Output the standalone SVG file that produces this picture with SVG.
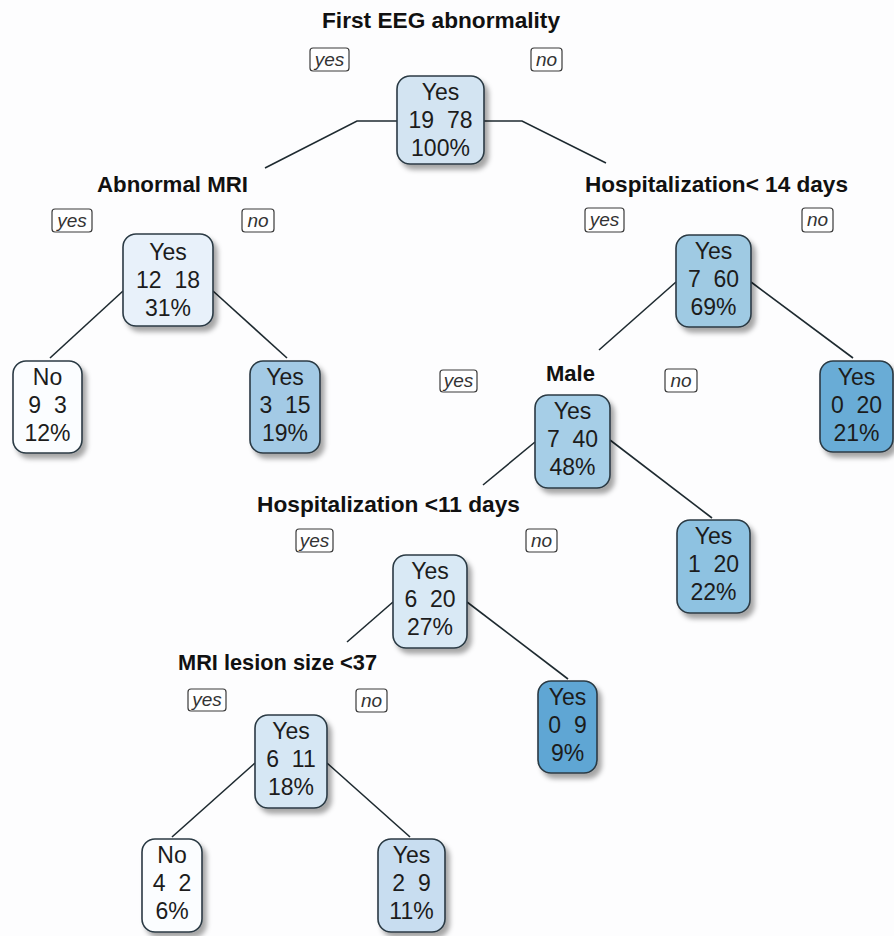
<svg xmlns="http://www.w3.org/2000/svg" width="894" height="936" viewBox="0 0 894 936">
<defs>
<filter id="sh" x="-20%" y="-20%" width="150%" height="150%">
<feDropShadow dx="4" dy="5" stdDeviation="2.5" flood-color="#000" flood-opacity="0.35"/>
</filter>
<style>
.bx{stroke:#2b3a44;stroke-width:1.6;filter:url(#sh)}
.nt{font-family:"Liberation Sans",Arial,sans-serif;font-size:23px;fill:#1c1c1c;text-anchor:middle}
.lb{font-family:"Liberation Sans",Arial,sans-serif;font-size:22px;font-weight:bold;fill:#111;text-anchor:middle}
.yn rect{fill:#fff;stroke:#3a3a3a;stroke-width:1.2}
.yn text{font-family:"Liberation Sans",Arial,sans-serif;font-size:19px;font-style:italic;fill:#333;text-anchor:middle}
.cn{fill:none;stroke:#1e2a30;stroke-width:1.6}
</style>
</defs>
<rect x="0" y="0" width="894" height="936" fill="#fdfdfe"/>

<g id="connectors" class="cn">
<polyline points="397,121 357,121 265,168"/>
<polyline points="484,121 522,121 606,163"/>
<line x1="123" y1="291" x2="50" y2="358"/>
<line x1="213" y1="291" x2="287" y2="358"/>
<line x1="676" y1="282" x2="599" y2="350"/>
<line x1="751" y1="282" x2="853" y2="358"/>
<line x1="535" y1="442" x2="483" y2="485"/>
<line x1="610" y1="440" x2="712" y2="518"/>
<line x1="393" y1="602" x2="347" y2="642"/>
<line x1="467" y1="602" x2="568" y2="679"/>
<line x1="255" y1="763" x2="172" y2="837"/>
<line x1="327" y1="763" x2="410" y2="837"/>
</g>

<g id="labels">
<text class="lb" x="441" y="28" textLength="238" lengthAdjust="spacingAndGlyphs">First EEG abnormality</text>
<text class="lb" x="172.5" y="192" textLength="151" lengthAdjust="spacingAndGlyphs">Abnormal MRI</text>
<text class="lb" x="716.5" y="192" textLength="263" lengthAdjust="spacingAndGlyphs">Hospitalization&lt; 14 days</text>
<text class="lb" x="570.5" y="381" textLength="49" lengthAdjust="spacingAndGlyphs">Male</text>
<text class="lb" x="388.5" y="512" textLength="263" lengthAdjust="spacingAndGlyphs">Hospitalization &lt;11 days</text>
<text class="lb" x="277.5" y="670" textLength="199" lengthAdjust="spacingAndGlyphs">MRI lesion size &lt;37</text>
</g>

<g id="yesno" class="yn">
<rect x="310" y="48" width="39" height="23" rx="3"/><text x="329.5" y="66">yes</text>
<rect x="531" y="48" width="31" height="23" rx="3"/><text x="546.5" y="66">no</text>
<rect x="52" y="209" width="40" height="23" rx="3"/><text x="72" y="227">yes</text>
<rect x="242" y="209" width="32" height="23" rx="3"/><text x="258" y="227">no</text>
<rect x="585" y="208" width="39" height="24" rx="3"/><text x="604.5" y="226">yes</text>
<rect x="802" y="208" width="31" height="24" rx="3"/><text x="817.5" y="226">no</text>
<rect x="440" y="370" width="37" height="22" rx="3"/><text x="458.5" y="387">yes</text>
<rect x="665" y="369" width="32" height="23" rx="3"/><text x="681" y="387">no</text>
<rect x="296" y="529" width="37" height="23" rx="3"/><text x="314.5" y="547">yes</text>
<rect x="526" y="529" width="31" height="23" rx="3"/><text x="541.5" y="547">no</text>
<rect x="188" y="689" width="38" height="22" rx="3"/><text x="207" y="706">yes</text>
<rect x="356" y="689" width="31" height="23" rx="3"/><text x="371.5" y="707">no</text>
</g>

<g id="n1">
<rect class="bx" x="397" y="76" width="87" height="88" rx="13" fill="#d3e4f2"/>
<text class="nt" xml:space="preserve"><tspan x="440.5" y="100">Yes</tspan><tspan x="440.5" y="128">19  78</tspan><tspan x="440.5" y="156">100%</tspan></text>
</g>
<g id="n2">
<rect class="bx" x="123" y="234" width="90" height="92" rx="13" fill="#e8f1fa"/>
<text class="nt" xml:space="preserve"><tspan x="168" y="260">Yes</tspan><tspan x="168" y="288">12  18</tspan><tspan x="168" y="316">31%</tspan></text>
</g>
<g id="n4">
<rect class="bx" x="13" y="361" width="69" height="92" rx="13" fill="#fbfdff"/>
<text class="nt" xml:space="preserve"><tspan x="47.5" y="385">No</tspan><tspan x="47.5" y="413">9  3</tspan><tspan x="47.5" y="441">12%</tspan></text>
</g>
<g id="n5">
<rect class="bx" x="250" y="361" width="70" height="92" rx="13" fill="#a3cae5"/>
<text class="nt" xml:space="preserve"><tspan x="285" y="385">Yes</tspan><tspan x="285" y="413">3  15</tspan><tspan x="285" y="441">19%</tspan></text>
</g>
<g id="n3">
<rect class="bx" x="676" y="235" width="75" height="92" rx="13" fill="#9fcae3"/>
<text class="nt" xml:space="preserve"><tspan x="713.5" y="259">Yes</tspan><tspan x="713.5" y="287">7  60</tspan><tspan x="713.5" y="315">69%</tspan></text>
</g>
<g id="n7">
<rect class="bx" x="820" y="361" width="73" height="91" rx="13" fill="#69acd6"/>
<text class="nt" xml:space="preserve"><tspan x="856.5" y="385">Yes</tspan><tspan x="856.5" y="413">0  20</tspan><tspan x="856.5" y="441">21%</tspan></text>
</g>
<g id="n6">
<rect class="bx" x="535" y="395" width="75" height="93" rx="13" fill="#a6cee7"/>
<text class="nt" xml:space="preserve"><tspan x="572.5" y="419">Yes</tspan><tspan x="572.5" y="447">7  40</tspan><tspan x="572.5" y="475">48%</tspan></text>
</g>
<g id="n13">
<rect class="bx" x="677" y="520" width="73" height="93" rx="13" fill="#8ec2e1"/>
<text class="nt" xml:space="preserve"><tspan x="713.5" y="544">Yes</tspan><tspan x="713.5" y="572">1  20</tspan><tspan x="713.5" y="600">22%</tspan></text>
</g>
<g id="n12">
<rect class="bx" x="393" y="555" width="74" height="93" rx="13" fill="#d9e9f5"/>
<text class="nt" xml:space="preserve"><tspan x="430" y="579">Yes</tspan><tspan x="430" y="607">6  20</tspan><tspan x="430" y="635">27%</tspan></text>
</g>
<g id="n25">
<rect class="bx" x="538" y="681" width="59" height="92" rx="13" fill="#5ea6d4"/>
<text class="nt" xml:space="preserve"><tspan x="567.5" y="705">Yes</tspan><tspan x="567.5" y="733">0  9</tspan><tspan x="567.5" y="761">9%</tspan></text>
</g>
<g id="n24">
<rect class="bx" x="255" y="715" width="72" height="93" rx="13" fill="#d6e7f4"/>
<text class="nt" xml:space="preserve"><tspan x="291" y="739">Yes</tspan><tspan x="291" y="767">6  11</tspan><tspan x="291" y="795">18%</tspan></text>
</g>
<g id="n48">
<rect class="bx" x="142" y="839" width="60" height="93" rx="13" fill="#fbfdff"/>
<text class="nt" xml:space="preserve"><tspan x="172" y="863">No</tspan><tspan x="172" y="891">4  2</tspan><tspan x="172" y="919">6%</tspan></text>
</g>
<g id="n49">
<rect class="bx" x="378" y="839" width="67" height="93" rx="13" fill="#c8ddf0"/>
<text class="nt" xml:space="preserve"><tspan x="411.5" y="863">Yes</tspan><tspan x="411.5" y="891">2  9</tspan><tspan x="411.5" y="919">11%</tspan></text>
</g>
</svg>
